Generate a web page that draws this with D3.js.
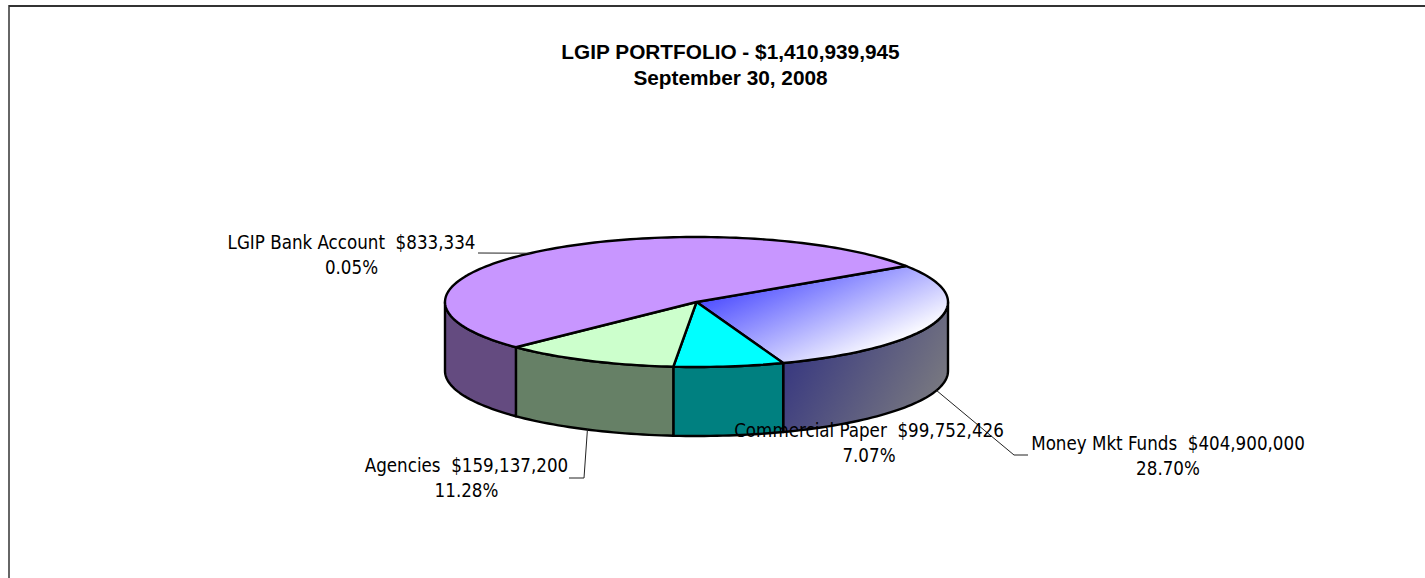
<!DOCTYPE html>
<html>
<head>
<meta charset="utf-8">
<script src="https://cdnjs.cloudflare.com/ajax/libs/d3/7.8.5/d3.min.js"></script>
<style>
  html, body { margin: 0; padding: 0; background: #fff; overflow: hidden; }
  text { white-space: pre; fill: #000; }
</style>
</head>
<body>
<div id="chart"></div>
<script>
const titleLines = ['LGIP PORTFOLIO - $1,410,939,945', 'September 30, 2008'];

// clockwise from the top right edge of the purple slice
const categories = ['LGIP Bank Account', 'Money Mkt Funds', 'Commercial Paper', 'Agencies', ''];
const values = [833334, 404900000, 99752426, 159137200, 746316985];
const moneyLabels = ['$833,334', '$404,900,000', '$99,752,426', '$159,137,200', ''];
const percentLabels = ['0.05%', '28.70%', '7.07%', '11.28%', ''];

const width = 1425;
const height = 578;
const cx = 696.5;
const cy = 302;
const rx = 251.5;
const ry = 65;
const depth = 69;

const topColors = ['#c896ff', 'url(#mmfTop)', '#00ffff', '#ccffcc', '#c896ff'];
const sideColors = ['#644b80', 'url(#mmfSide)', '#008080', '#668066', '#644b80'];

// label layout: text centre, leader start angle (deg), leader elbow and end
const labelLayout = [
  { x: 351.5, y: 249, angle: 318.6, side: false, elbow: [478, 253] },
  { x: 1168, y: 450, angle: 107.4, side: true, elbow: [1014, 455], end: [1028, 455] },
  { x: 869, y: 437 },
  { x: 466.5, y: 472, angle: 205.7, side: true, elbow: [584, 478], end: [569, 478] },
];

const svg = d3.select('#chart').append('svg')
    .attr('width', width)
    .attr('height', height)
    .style('display', 'block');

const defs = svg.append('defs');

const addGradient = (id, p1, p2, stops) => {
  const g = defs.append('linearGradient')
      .attr('id', id)
      .attr('gradientUnits', 'userSpaceOnUse')
      .attr('x1', p1[0]).attr('y1', p1[1])
      .attr('x2', p2[0]).attr('y2', p2[1]);
  stops.forEach(s => g.append('stop').attr('offset', s[0]).attr('stop-color', s[1]));
};

addGradient('mmfTop', [700, 300], [752, 412], [[0, '#4d4dff'], [1, '#ffffff']]);
addGradient('mmfSide', [790, 370], [930, 450], [[0, '#3c3c80'], [1, '#808080']]);

// frame: only the top and left edges are visible
svg.append('line').attr('x1', 9).attr('y1', 6).attr('x2', width).attr('y2', 6)
    .attr('stroke', '#333').attr('stroke-width', 2);
svg.append('line').attr('x1', 9).attr('y1', 5).attr('x2', 9).attr('y2', height)
    .attr('stroke', '#333').attr('stroke-width', 1.5);

svg.selectAll('.title')
    .data(titleLines)
  .enter().append('text')
    .attr('class', 'title')
    .attr('x', 730.5)
    .attr('y', (d, i) => 59 + i * 26)
    .attr('text-anchor', 'middle')
    .style('font-family', '"Liberation Sans", Arial, sans-serif')
    .style('font-weight', 'bold')
    .style('font-size', '20.8px')
    .text(d => d);

const startAngle = 56.5 * Math.PI / 180;
const pie = d3.pie()
    .sort(null)
    .startAngle(startAngle - 0.0032)
    .endAngle(startAngle - 0.0032 + 2 * Math.PI);

const arcs = pie(values);

const ex = d3.scaleLinear().domain([-1, 1]).range([cx - rx, cx + rx]);
const ey = d3.scaleLinear().domain([-1, 1]).range([cy - ry, cy + ry]);

const topPoint = (a) => [ex(Math.sin(a)), ey(-Math.cos(a))];
const sidePoint = (a) => {
  const p = topPoint(a);
  return [p[0], p[1] + depth];
};

const curve = (a0, a1, proj) => {
  const n = Math.max(2, Math.ceil(Math.abs(a1 - a0) * 40));
  return d3.range(n + 1).map(i => proj(a0 + (a1 - a0) * i / n));
};

const line = d3.line();

// only the front half of the rim shows
const sideFrom = Math.PI / 2;
const sideTo = Math.PI * 1.5;

const sideData = arcs
    .map((d, i) => {
      const a0 = Math.max(d.startAngle, sideFrom);
      const a1 = Math.min(d.endAngle, sideTo);
      return { a0, a1, i };
    })
    .filter(d => d.a1 > d.a0);

svg.selectAll('.side')
    .data(sideData)
  .enter().append('path')
    .attr('class', 'side')
    .attr('d', d => line(curve(d.a0, d.a1, topPoint)
        .concat(curve(d.a1, d.a0, sidePoint))) + 'Z')
    .style('fill', d => sideColors[d.i])
    .style('stroke', '#000')
    .style('stroke-width', 2.4)
    .style('stroke-linejoin', 'round');

svg.selectAll('.slice')
    .data(arcs)
  .enter().append('path')
    .attr('class', 'slice')
    .attr('d', d => line([[cx, cy]].concat(curve(d.startAngle, d.endAngle, topPoint))) + 'Z')
    .style('fill', (d, i) => topColors[i])
    .style('stroke', '#000')
    .style('stroke-width', 2.4)
    .style('stroke-linejoin', 'round');

// leader lines
const leaderData = labelLayout.filter(d => d.angle !== undefined);
svg.selectAll('.leader')
    .data(leaderData)
  .enter().append('path')
    .attr('class', 'leader')
    .attr('d', (d) => {
      const a = d.angle * Math.PI / 180;
      const start = d.side ? sidePoint(a) : topPoint(a);
      return line([start, d.elbow].concat(d.end ? [d.end] : []));
    })
    .style('fill', 'none')
    .style('stroke', '#222')
    .style('stroke-width', 1);

const labels = svg.selectAll('.label')
    .data(labelLayout)
  .enter().append('text')
    .attr('class', 'label')
    .attr('text-anchor', 'middle')
    .style('font-family', '"DejaVu Sans Condensed", "DejaVu Sans", sans-serif')
    .style('font-size', '18.6px');

labels.append('tspan')
    .attr('x', d => d.x)
    .attr('y', d => d.y)
    .text((d, i) => `${categories[i]}  ${moneyLabels[i]}`);

labels.append('tspan')
    .attr('x', d => d.x)
    .attr('y', d => d.y + 25)
    .text((d, i) => percentLabels[i]);
</script>
</body>
</html>
